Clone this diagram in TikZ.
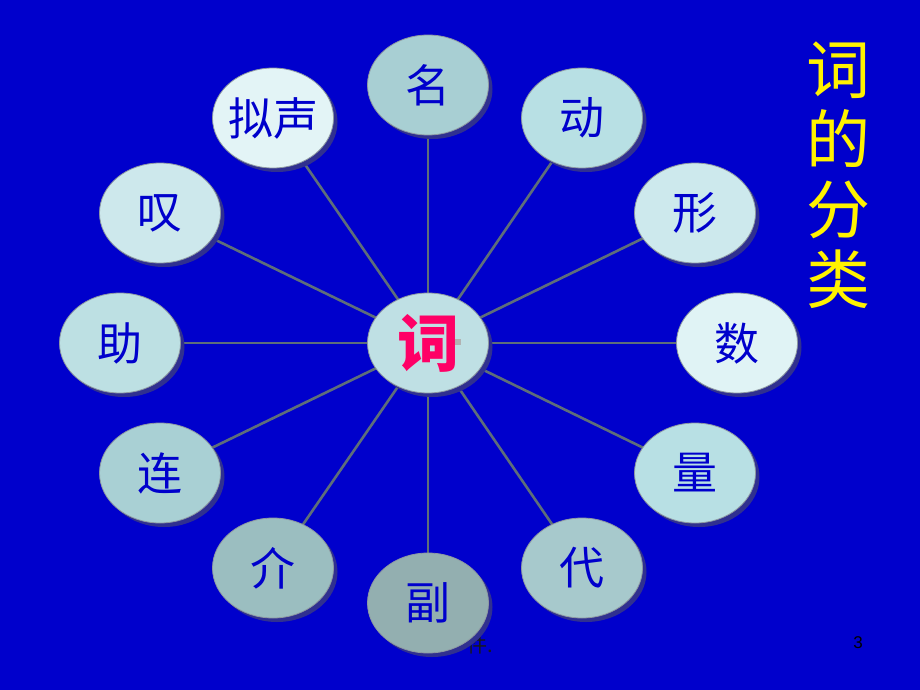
\documentclass[tikz,border=0pt]{standalone}
\usepackage{fontspec}
\newfontfamily\cjk{Noto Sans CJK SC}
\setmainfont{Liberation Sans}
\usetikzlibrary{shapes.geometric}
\definecolor{bg}{HTML}{0000CC}
\definecolor{shadowc}{HTML}{303090}
\definecolor{linec}{HTML}{5E6E7A}
\definecolor{txtblue}{HTML}{0000CC}
\definecolor{redc}{HTML}{FF0066}
\begin{document}
\begin{tikzpicture}[x=1pt,y=-1pt,
  wordnode/.style={ellipse, minimum width=121pt, minimum height=100pt, inner sep=0pt,
    draw=linec!70!white, line width=0.8pt, text=txtblue,
    font=\cjk\fontsize{45}{45}\selectfont},
  shadowell/.style={fill=shadowc},
  spoke/.style={draw=linec, line width=2.6pt}]
\useasboundingbox (0,0) rectangle (920,690);
\fill[bg] (0,0) rectangle (920,690);
% centres
\coordinate (pc) at (428,343);
\coordinate (p1) at (428,85);
\coordinate (p2) at (582,118);
\coordinate (p3) at (695,213);
\coordinate (p4) at (737,343);
\coordinate (p5) at (695,473);
\coordinate (p6) at (582,568);
\coordinate (p7) at (428,603);
\coordinate (p8) at (273,568);
\coordinate (p9) at (160,473);
\coordinate (p10) at (120,343);
\coordinate (p11) at (160,213);
\coordinate (p12) at (273,118);
% spokes
\foreach \i in {1,...,12}{\draw[spoke] (pc) -- (p\i);}
% footer text behind
\node[font=\cjk\fontsize{20}{20}\selectfont, text=black!90, anchor=west] (foot) at (464,645) {件.};
\node[font=\fontsize{17}{17}\selectfont, text=black] (pnum) at (858,643) {3};
% shadows
\foreach \i in {c,1,2,3,4,5,6,7,8,9,10,11,12}{
  \fill[shadowell] ([shift={(4,4)}]p\i) ellipse [x radius=60.5, y radius=50];
}
\node[wordnode, fill={rgb,255:red,168;green,207;blue,211}] (n1) at (p1) {名};
\node[wordnode, fill={rgb,255:red,184;green,224;blue,228}] (n2) at (p2) {动};
\node[wordnode, fill={rgb,255:red,205;green,233;blue,237}] (n3) at (p3) {形};
\node[wordnode, fill={rgb,255:red,224;green,243;blue,245}] (n4) at (p4) {数};
\node[wordnode, fill={rgb,255:red,184;green,224;blue,228}] (n5) at (p5) {量};
\node[wordnode, fill={rgb,255:red,167;green,201;blue,204}] (n6) at (p6) {代};
\node[wordnode, fill={rgb,255:red,147;green,175;blue,176}] (n7) at (p7) {副};
\node[wordnode, fill={rgb,255:red,155;green,190;blue,192}] (n8) at (p8) {介};
\node[wordnode, fill={rgb,255:red,169;green,208;blue,212}] (n9) at (p9) {连};
\node[wordnode, fill={rgb,255:red,189;green,224;blue,227}] (n10) at (p10) {助};
\node[wordnode, fill={rgb,255:red,205;green,232;blue,236}] (n11) at (p11) {叹};
\node[wordnode, fill={rgb,255:red,227;green,244;blue,246}, inner xsep=-6pt, inner ysep=0pt] (n12) at (p12) {拟声};
\node[wordnode, fill={rgb,255:red,191;green,224;blue,228}, text=redc,
  font=\cjk\bfseries\fontsize{62}{62}\selectfont] (nc) at (pc) {词};
\fill[gray!60] (455,339) rectangle (461,345);
% title
\node[text=yellow, font=\cjk\fontsize{64}{70}\selectfont, align=center, anchor=north] (title) at (838,38)
  {词\\的\\分\\类};
\end{tikzpicture}
\end{document}
